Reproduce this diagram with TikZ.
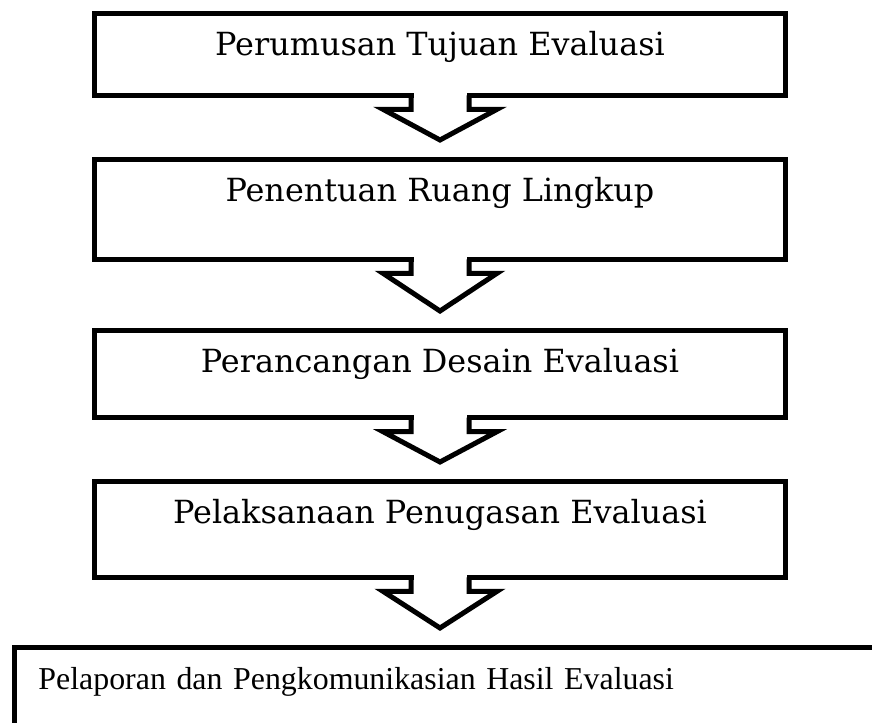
\documentclass[tikz,border=0pt]{standalone}
\usepackage{fontspec}
\setmainfont{DejaVu Serif}
\newfontfamily\serifsempit{Liberation Serif}
\usetikzlibrary{calc}

\begin{document}
\begin{tikzpicture}[x=0.75pt, y=-0.75pt,
    kotak/.style={draw, line width=3.75pt, inner sep=0pt, outer sep=0pt,
      minimum width=518pt, text height=31pt,
      font=\fontsize{23.9}{28}\selectfont},
    panah/.style={draw, line width=3.75pt}]
  \clip (0,0) rectangle (872,723);
  \node[kotak, anchor=north, text depth=30pt] (perumusan) at (440,14)
    {Perumusan Tujuan Evaluasi};
  \node[kotak, anchor=north, text depth=43.5pt] (penentuan) at (440,160)
    {Penentuan Ruang Lingkup};
  \node[kotak, anchor=north, text depth=34pt] (perancangan) at (440,331)
    {Perancangan Desain Evaluasi};
  \node[kotak, anchor=north, text depth=40.5pt] (pelaksanaan) at (440,482)
    {Pelaksanaan Penugasan Evaluasi};
  \node[kotak, anchor=north west, text depth=80pt, minimum width=0pt,
    inner xsep=18pt, text width=700pt, align=left,
    font=\serifsempit\fontsize{23.9}{28}\selectfont] (pelaporan) at (14.5,648)
    {Pelaporan dan Pengkomunikasian Hasil Evaluasi};
  \foreach \a/\b in {perumusan/penentuan, penentuan/perancangan,
      perancangan/pelaksanaan, pelaksanaan/pelaporan} {
    \fill[white] ($(\a.south)+(-26.5,-3)$) rectangle ($(\a.south)+(26.5,3)$);
    \draw[panah] ($(\a.south)+(-29,0)$) -- ++(0,14) -- ++(-28,0)
      -- ($(\a.south |- \b.north)+(0,-20)$) -- ($(\a.south)+(57,14)$)
      -- ++(-28,0) -- ++(0,-14);
  }
\end{tikzpicture}
\end{document}
